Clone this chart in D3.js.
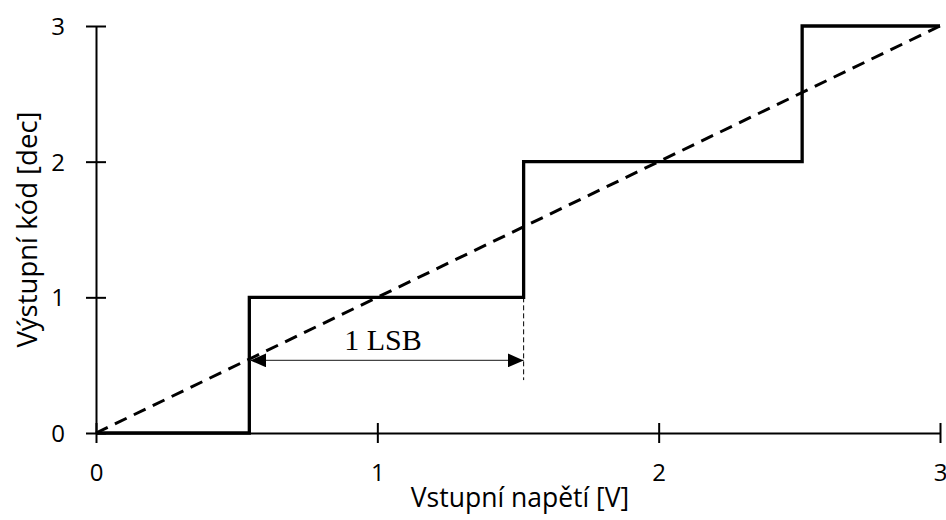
<!DOCTYPE html>
<html><head><meta charset="utf-8">
<script src="https://cdn.jsdelivr.net/npm/d3@7"></script>
<style>
html,body{margin:0;padding:0;background:#fff;}
</style></head>
<body>
<svg id="c" width="946" height="520"></svg>
<script>
// ---- data ----
const xTicks = [0, 1, 2, 3];
const yTicks = [0, 1, 2, 3];
// transfer characteristic (step): transition voltages and output codes
const stepVolts = [0, 0.545, 1.52, 2.51, 3];
const stepCodes = [0, 1, 2, 3, 3];
// ideal (linear) characteristic
const idealVolts = [0, 3];
const idealCodes = [0, 3];
// 1 LSB annotation
const lsbFrom = 0.545, lsbTo = 1.52, lsbLevel = 0.535, lsbLabel = "1 LSB";
const guideFrom = 1, guideTo = 0.39;
const xTitle = "Vstupní napětí [V]";
const yTitle = "Výstupní kód [dec]";

const sans = "'Open Sans', sans-serif";
const svg = d3.select("#c");
const x = d3.scaleLinear().domain([0, 3]).range([96, 940]);
const y = d3.scaleLinear().domain([0, 3]).range([433, 26]);

// axes
const gx = svg.append("g").attr("transform", `translate(0,${y(0)})`)
  .call(d3.axisBottom(x).tickValues(xTicks).tickFormat(d3.format("d")).tickSizeOuter(0));
gx.select(".domain").attr("stroke", "#000").attr("stroke-width", 2);
gx.selectAll(".tick line").attr("y1", -10).attr("y2", 10).attr("stroke", "#000").attr("stroke-width", 2);
gx.selectAll(".tick text").attr("y", 48).attr("dy", 0).attr("fill", "#000")
  .style("font-family", sans).style("font-size", "24px");

const gy = svg.append("g").attr("transform", `translate(${x(0)},0)`)
  .call(d3.axisLeft(y).tickValues(yTicks).tickFormat(d3.format("d")).tickSizeOuter(0));
gy.select(".domain").attr("stroke", "#000").attr("stroke-width", 2);
gy.selectAll(".tick line").attr("x1", -10).attr("x2", 10).attr("stroke", "#000").attr("stroke-width", 2);
gy.selectAll(".tick text").attr("x", -31).attr("dy", "0.36em").attr("fill", "#000")
  .style("font-family", sans).style("font-size", "24px");

// axis titles
svg.append("text").attr("x", (x(0) + x(3)) / 2 + 2).attr("y", 507).attr("text-anchor", "middle")
  .style("font-family", sans).style("font-size", "26.5px").text(xTitle);
svg.append("text").attr("transform", `translate(37,${(y(0) + y(3)) / 2}) rotate(-90)`)
  .attr("text-anchor", "middle").style("font-family", sans).style("font-size", "27.5px").text(yTitle);

// step characteristic
const stepData = stepVolts.map((v, i) => [v, stepCodes[i]]);
svg.append("path").datum(stepData)
  .attr("d", d3.line().x(d => x(d[0])).y(d => y(d[1])).curve(d3.curveStepAfter))
  .attr("fill", "none").attr("stroke", "#000").attr("stroke-width", 3.3);

// ideal line
const idealData = idealVolts.map((v, i) => [v, idealCodes[i]]);
svg.append("path").datum(idealData)
  .attr("d", d3.line().x(d => x(d[0])).y(d => y(d[1])))
  .attr("fill", "none").attr("stroke", "#000").attr("stroke-width", 3)
  .attr("stroke-dasharray", "13,8");

// guide line (thin dashed vertical)
svg.append("line").attr("x1", x(lsbTo)).attr("x2", x(lsbTo))
  .attr("y1", y(guideFrom)).attr("y2", y(guideTo))
  .attr("stroke", "#000").attr("stroke-width", 1).attr("stroke-dasharray", "5,3");

// arrow markers
const defs = svg.append("defs");
defs.append("marker").attr("id", "ah").attr("viewBox", "0 0 16 14")
  .attr("refX", 16).attr("refY", 7).attr("markerWidth", 16).attr("markerHeight", 14)
  .attr("markerUnits", "userSpaceOnUse").attr("orient", "auto-start-reverse")
  .append("path").attr("d", "M0,0 L16,7 L0,14 Z").attr("fill", "#000");

svg.append("line").attr("x1", x(lsbFrom) + 1).attr("x2", x(lsbTo))
  .attr("y1", y(lsbLevel)).attr("y2", y(lsbLevel))
  .attr("stroke", "#444").attr("stroke-width", 1.2)
  .attr("marker-start", "url(#ah)").attr("marker-end", "url(#ah)");

svg.append("text").attr("x", 383).attr("y", 350).attr("text-anchor", "middle")
  .style("font-family", "'Liberation Serif', 'Times New Roman', serif").style("font-size", "30px")
  .attr("fill", "#000").text(lsbLabel);
</script>
</body></html>
